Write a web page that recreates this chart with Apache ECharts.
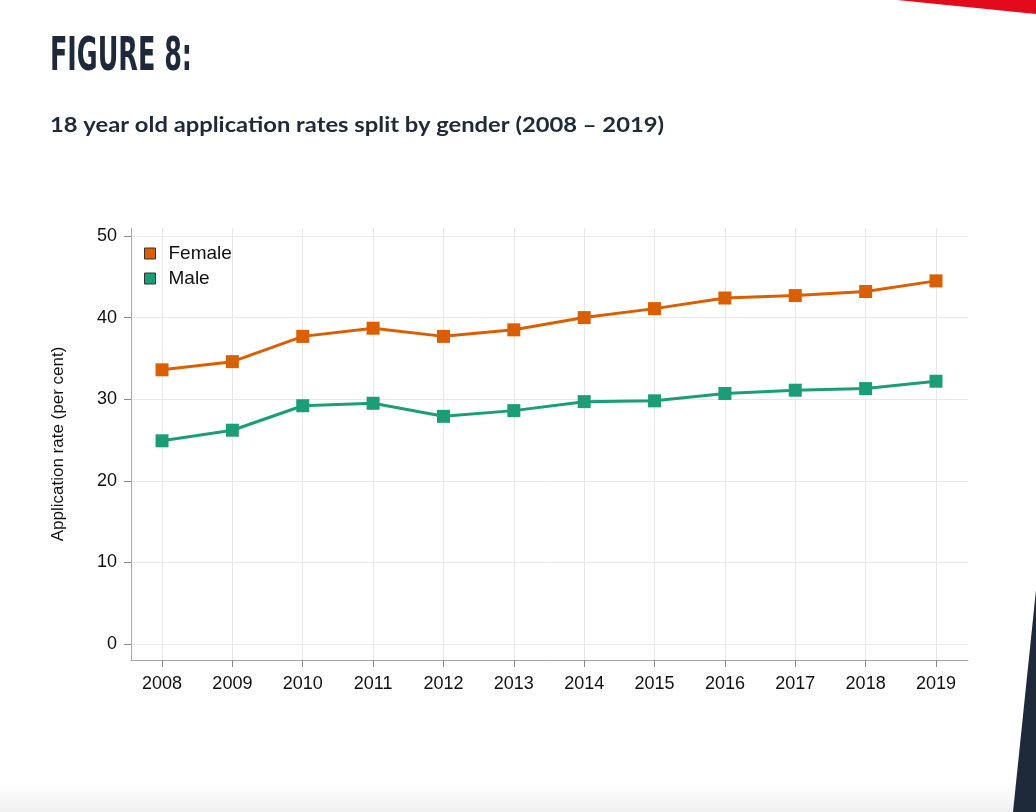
<!DOCTYPE html>
<html><head><meta charset="utf-8">
<script src="https://cdn.jsdelivr.net/npm/echarts@6/dist/echarts.min.js"></script>
<style>html,body{margin:0;padding:0;background:#fff}#c{width:1036px;height:812px}</style>
</head><body><div id="c"></div>
<script>
// ---- data ----
const years = [2008, 2009, 2010, 2011, 2012, 2013, 2014, 2015, 2016, 2017, 2018, 2019];
const female = [33.6, 34.6, 37.7, 38.7, 37.7, 38.5, 40.0, 41.1, 42.4, 42.7, 43.2, 44.5];
const male = [24.9, 26.2, 29.2, 29.5, 27.9, 28.6, 29.7, 29.8, 30.7, 31.1, 31.3, 32.2];
const yTicks = [0, 10, 20, 30, 40, 50];
const seriesNames = ['Female', 'Male'];
const titleText = 'FIGURE 8:';
const subtitleText = '18 year old application rates split by gender (2008 \u2013 2019)';
const yAxisName = 'Application rate (per cent)';

// ---- helpers ----
function fitScale(text, font, target) {
  const ctx = document.createElement('canvas').getContext('2d');
  ctx.font = font;
  return target / ctx.measureText(text).width;
}
const titleFont = 'bold 47px "DejaVu Sans Condensed"';
const subFont = 'bold 21px Lato';
const titleScale = fitScale(titleText, titleFont, 142);
const subScale = fitScale(subtitleText, subFont, 614);

const NAVY = '#1e2939';
const ORANGE = '#d95f02';
const GREEN = '#1b9e77';
const AXIS_FONT = '"Liberation Sans", Arial, sans-serif';

const chart = echarts.init(document.getElementById('c'), null, {renderer: 'canvas'});
chart.setOption({
  animation: false,
  backgroundColor: '#ffffff',
  grid: {left: 131, right: 68, top: 228, bottom: 152, containLabel: false, outerBoundsMode: 'none'},
  legend: {
    orient: 'vertical', left: 139, top: 239,
    icon: 'rect', itemWidth: 11, itemHeight: 11, itemGap: 6,
    itemStyle: {borderColor: '#333', borderWidth: 1},
    textStyle: {fontSize: 19, lineHeight: 19, color: '#111', fontFamily: AXIS_FONT, padding: [0, 0, 0, 8]},
    data: seriesNames
  },
  xAxis: {
    type: 'value', min: 2007.559, max: 2019.455,
    axisLine: {show: true, onZero: false, lineStyle: {color: '#a8a8a8', width: 1}},
    axisTick: {show: true, length: 7, customValues: years, lineStyle: {color: '#8a8a8a'}},
    axisLabel: {customValues: years, formatter: v => String(v), fontSize: 18, color: '#111', fontFamily: AXIS_FONT, margin: 15},
    splitLine: {show: true, lineStyle: {color: '#e8e8e8', width: 1}}
  },
  yAxis: {
    type: 'value', min: -1.96, max: 50.98,
    name: yAxisName, nameLocation: 'middle', nameGap: 64,
    nameTextStyle: {fontSize: 17, color: '#111', fontFamily: AXIS_FONT},
    axisLine: {show: true, onZero: false, lineStyle: {color: '#a8a8a8', width: 1}},
    axisTick: {show: true, length: 7, customValues: yTicks, lineStyle: {color: '#8a8a8a'}},
    axisLabel: {customValues: yTicks, fontSize: 18, color: '#111', fontFamily: AXIS_FONT, margin: 14},
    splitLine: {show: true, lineStyle: {color: '#e8e8e8', width: 1}}
  },
  series: [
    {
      name: seriesNames[0], type: 'line', symbol: 'rect', symbolSize: 13,
      data: years.map((y, i) => [y, female[i]]),
      lineStyle: {color: ORANGE, width: 3}, itemStyle: {color: ORANGE},
      emphasis: {disabled: true}
    },
    {
      name: seriesNames[1], type: 'line', symbol: 'rect', symbolSize: 13,
      data: years.map((y, i) => [y, male[i]]),
      lineStyle: {color: GREEN, width: 3}, itemStyle: {color: GREEN},
      emphasis: {disabled: true}
    }
  ],
  graphic: [
    {
      type: 'rect', silent: true, z: -10,
      shape: {x: 0, y: 782, width: 1036, height: 30},
      style: {fill: new echarts.graphic.LinearGradient(0, 0, 0, 1, [
        {offset: 0, color: 'rgba(242,242,242,0)'}, {offset: 1, color: '#efefef'}])}
    },
    {
      type: 'polygon', silent: true,
      shape: {points: [[897, 0], [1036, 0], [1036, 14]]},
      style: {fill: '#e30a1c'}
    },
    {
      type: 'polygon', silent: true,
      shape: {points: [[1036, 590], [1036, 812], [1013, 812]]},
      style: {fill: NAVY}
    },
    {
      type: 'text', silent: true, x: 50, y: 58, scaleX: titleScale,
      style: {text: titleText, fontSize: 47, fontWeight: 'bold', fontFamily: '"DejaVu Sans Condensed"',
        fill: NAVY, verticalAlign: 'middle', align: 'left'}
    },
    {
      type: 'text', silent: true, x: 50, y: 125, scaleX: subScale,
      style: {text: subtitleText, fontSize: 21, fontWeight: 'bold', fontFamily: 'Lato',
        fill: NAVY, verticalAlign: 'middle', align: 'left'}
    }
  ]
});
</script>
</body></html>
